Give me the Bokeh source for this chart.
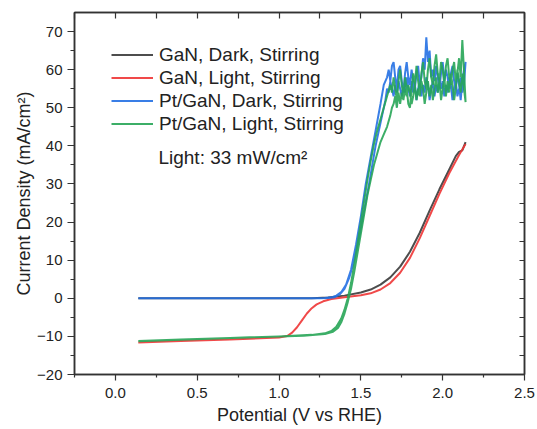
from bokeh.plotting import figure
from bokeh.models import (LinearAxis, FixedTicker, Legend, LegendItem, Label, Range1d,
                          PrintfTickFormatter)
from bokeh.embed import file_html
from bokeh.resources import INLINE

# ---------------- data ----------------
x_ticks = [0.0, 0.5, 1.0, 1.5, 2.0, 2.5]
x_minor = [-0.25, 0.25, 0.75, 1.25, 1.75, 2.25]
x_top_ticks = [-0.25, 0.0, 0.25, 0.5, 0.75, 1.0, 1.25, 1.5, 1.75, 2.0, 2.25, 2.5]
y_ticks = [-20, -10, 0, 10, 20, 30, 40, 50, 60, 70]
y_minor = [-15, -5, 5, 15, 25, 35, 45, 55, 65]
y_right_ticks = [-20, -15, -10, -5, 0, 5, 10, 15, 20, 25, 30, 35, 40, 45, 50, 55, 60, 65, 70]
y_tick_labels = {-20: "\u221220", -10: "\u221210"}

gan_dark_x = [0.14, 0.60, 1.00, 1.20, 1.30, 1.40, 1.50, 1.56, 1.62, 1.68, 1.74, 1.80,
              1.86, 1.92, 1.98, 2.04, 2.08, 2.10, 2.12, 2.14]
gan_dark_y = [0.0, 0.0, 0.0, 0.0, 0.2, 0.7, 1.5, 2.3, 3.6, 5.5, 8.3, 12.2,
              17.2, 23.0, 28.6, 33.8, 37.3, 38.4, 38.8, 41.0]

gan_light_x = [0.14, 0.40, 0.70, 1.00, 1.05, 1.08, 1.11, 1.14, 1.17, 1.20, 1.23, 1.27,
               1.32, 1.40, 1.50, 1.56, 1.62, 1.68, 1.74, 1.80, 1.86, 1.92, 1.98, 2.04,
               2.10, 2.14]
gan_light_y = [-11.6, -11.2, -10.8, -10.3, -9.9, -9.0, -7.6, -5.8, -4.0, -2.6, -1.6, -0.8,
               -0.2, 0.3, 0.8, 1.3, 2.3, 4.0, 6.7, 10.6, 15.8, 21.6, 27.4, 32.8,
               37.6, 40.5]

pt_dark_x = [0.14, 0.40, 0.70, 1.00, 1.20, 1.28, 1.32, 1.35, 1.38, 1.41, 1.44, 1.47,
             1.50, 1.53, 1.56, 1.59, 1.62, 1.64, 1.66,
             1.67, 1.68, 1.69, 1.70, 1.71, 1.72, 1.73, 1.74, 1.75, 1.76, 1.77, 1.78,
             1.79, 1.80, 1.81, 1.82, 1.83, 1.84, 1.85, 1.86, 1.87, 1.88, 1.89, 1.90,
             1.91, 1.92, 1.93, 1.94, 1.95, 1.96, 1.97, 1.98, 1.99, 2.00, 2.01, 2.02,
             2.03, 2.04, 2.05, 2.06, 2.07, 2.08, 2.09, 2.10, 2.11, 2.12, 2.13, 2.14,
             2.13, 2.12, 2.11, 2.10, 2.09, 2.08, 2.07, 2.06, 2.05, 2.04, 2.03, 2.02,
             2.01, 2.00, 1.99, 1.98, 1.97, 1.96, 1.95, 1.94, 1.93, 1.92, 1.91, 1.90,
             1.89, 1.88, 1.87, 1.86, 1.85, 1.84, 1.83, 1.82, 1.81, 1.80, 1.79, 1.78,
             1.77, 1.76, 1.75, 1.74, 1.73, 1.72, 1.71, 1.70, 1.69, 1.68, 1.67, 1.66,
             1.65, 1.63, 1.61, 1.59, 1.57, 1.55, 1.52, 1.49, 1.46, 1.43, 1.40, 1.37,
             1.34, 1.30, 1.25]
pt_dark_y = [0.0, 0.0, 0.0, 0.0, 0.0, 0.05, 0.25, 0.7, 1.6, 3.6, 7.5, 14.0,
             21.5, 30.0, 37.0, 44.0, 51.0, 56.0, 58.0,
             60, 57, 61, 62, 58, 55, 60, 61, 57, 54, 59, 62,
             58, 56, 60, 57, 55, 59, 61, 56, 58, 63, 60, 68.5,
             62, 65, 58, 60, 57, 61, 58, 55, 59, 62, 57, 60,
             58, 55, 59, 61, 57, 55, 59, 56, 52, 57, 60, 62,
             56, 54, 58, 55, 53, 57, 55, 52, 56, 58, 54, 56,
             53, 57, 55, 58, 54, 56, 53, 57, 55, 52, 56, 58,
             54, 56, 53, 57, 55, 52, 56, 54, 57, 53, 55, 58,
             54, 56, 53, 55, 57, 54, 56, 53, 55, 57, 54, 55,
             52, 48, 44, 40, 35, 30, 23, 16, 10, 5.5, 2.5, 1.0,
             0.3, 0.05, 0.0]

pt_light_x = [0.14, 0.40, 0.70, 1.00, 1.20, 1.28, 1.32, 1.35, 1.38, 1.40, 1.42, 1.44,
              1.46, 1.48, 1.50, 1.52, 1.54, 1.56, 1.58, 1.60, 1.62, 1.64, 1.66, 1.68,
              1.69, 1.70, 1.71, 1.72, 1.73, 1.74, 1.75, 1.76, 1.77, 1.78, 1.79, 1.80,
              1.81, 1.82, 1.83, 1.84, 1.85, 1.86, 1.87, 1.88, 1.89, 1.90, 1.91, 1.92,
              1.93, 1.94, 1.95, 1.96, 1.97, 1.98, 1.99, 2.00, 2.01, 2.02, 2.03, 2.04,
              2.05, 2.06, 2.07, 2.08, 2.09, 2.10, 2.11, 2.12, 2.13, 2.14,
              2.13, 2.12, 2.11, 2.10, 2.09, 2.08, 2.07, 2.06, 2.05, 2.04, 2.03, 2.02,
              2.01, 2.00, 1.99, 1.98, 1.97, 1.96, 1.95, 1.94, 1.93, 1.92, 1.91, 1.90,
              1.89, 1.88, 1.87, 1.86, 1.85, 1.84, 1.83, 1.82, 1.81, 1.80, 1.79, 1.78,
              1.77, 1.76, 1.75, 1.74, 1.73, 1.72, 1.71, 1.70, 1.69, 1.68, 1.66, 1.64,
              1.62, 1.60, 1.58, 1.56, 1.54, 1.52, 1.50, 1.48, 1.46, 1.44, 1.42, 1.40,
              1.38, 1.36, 1.33, 1.28, 1.15, 0.80, 0.40, 0.14]
pt_light_y = [-11.2, -10.8, -10.4, -10.0, -9.6, -9.2, -8.6, -7.5, -5.3, -3.0, 0.0, 4.0,
              9.0, 14.5, 20.0, 25.5, 31.0, 36.0, 40.5, 44.0, 47.0, 50.0, 53.0, 56.0,
              54, 58, 55, 52, 57, 60, 56, 53, 58, 55, 51, 50,
              55, 59, 56, 61, 57, 54, 59, 62, 57, 55, 60, 63,
              58, 56, 61, 64, 59, 57, 62, 60, 56, 61, 63, 58,
              56, 60, 62, 57, 59, 63, 58, 67.8, 60, 51.5,
              55, 59, 54, 57, 60, 55, 52, 56, 59, 54, 57, 53,
              58, 55, 52, 57, 54, 58, 55, 52, 56, 53, 57, 54,
              51, 55, 57, 53, 55, 52, 56, 53, 51, 54, 56, 53,
              55, 52, 54, 51, 54, 50, 53, 51, 50, 48, 45, 43,
              41, 38, 35, 31, 27, 22, 17, 12, 7, 2.5, -1.0, -4.0,
              -6.3, -7.8, -8.8, -9.4, -9.8, -10.3, -10.9, -11.3]

series = [
    ("GaN, Dark, Stirring", gan_dark_x, gan_dark_y, "#3a3a3a"),
    ("GaN, Light, Stirring", gan_light_x, gan_light_y, "#ee3535"),
    ("Pt/GaN, Dark, Stirring", pt_dark_x, pt_dark_y, "#2370e3"),
    ("Pt/GaN, Light, Stirring", pt_light_x, pt_light_y, "#27a556"),
]

FONT = "Liberation Sans"
AX = "#333333"
TXT = "#222222"

p = figure(width=537, height=431, output_backend="svg", toolbar_location=None,
           x_range=Range1d(-0.25, 2.5), y_range=Range1d(-20, 75),
           min_border_left=74, min_border_right=13, min_border_top=12, min_border_bottom=57,
           background_fill_color="white", border_fill_color="white")
p.xgrid.visible = False
p.ygrid.visible = False
p.outline_line_color = AX
p.outline_line_width = 1.5
p.xaxis.visible = False
p.yaxis.visible = False

def style(ax):
    ax.axis_line_color = AX
    ax.axis_line_width = 1.5
    ax.major_tick_line_color = AX
    ax.minor_tick_line_color = AX
    ax.major_tick_line_width = 1.2
    ax.minor_tick_line_width = 1.2
    ax.major_label_text_font = FONT
    ax.major_label_text_color = TXT
    ax.axis_label_text_font = FONT
    ax.axis_label_text_color = TXT
    ax.axis_label_text_font_style = "normal"

xb = LinearAxis(ticker=FixedTicker(ticks=x_ticks, minor_ticks=x_minor),
                axis_label="Potential (V vs RHE)",
                formatter=PrintfTickFormatter(format="%.1f"))
style(xb)
xb.major_tick_out = 6; xb.major_tick_in = 0
xb.minor_tick_out = 3; xb.minor_tick_in = 0
xb.major_label_text_font_size = "15px"
xb.major_label_standoff = 7
xb.axis_label_text_font_size = "18px"
xb.axis_label_standoff = 4
p.add_layout(xb, "below")

yl = LinearAxis(ticker=FixedTicker(ticks=y_ticks, minor_ticks=y_minor),
                axis_label="Current Density (mA/cm\u00b2)",
                major_label_overrides=y_tick_labels)
style(yl)
yl.major_tick_out = 7; yl.major_tick_in = 0
yl.minor_tick_out = 4; yl.minor_tick_in = 0
yl.major_label_text_font_size = "15px"
yl.major_label_standoff = 5
yl.axis_label_text_font_size = "18px"
yl.axis_label_standoff = 0
p.add_layout(yl, "left")

xt = LinearAxis(ticker=FixedTicker(ticks=x_top_ticks))
style(xt)
xt.major_tick_out = 0; xt.major_tick_in = 6
xt.minor_tick_out = 0; xt.minor_tick_in = 0
xt.major_label_text_font_size = "1px"
xt.major_label_text_color = None
xt.major_label_standoff = 0
p.add_layout(xt, "above")

yr = LinearAxis(ticker=FixedTicker(ticks=y_right_ticks))
style(yr)
yr.major_tick_out = 0; yr.major_tick_in = 5
yr.minor_tick_out = 0; yr.minor_tick_in = 0
yr.major_label_text_font_size = "1px"
yr.major_label_text_color = None
yr.major_label_standoff = 0
p.add_layout(yr, "right")

items = []
for name, xs, ys, col in series:
    r = p.line(xs, ys, line_color=col, line_width=2, line_alpha=0.9)
    items.append(LegendItem(label=name, renderers=[r]))

legend = Legend(items=items, location=(37, 239), padding=0, margin=0, spacing=0,
                glyph_width=42, glyph_height=23, label_height=23, label_standoff=6,
                label_text_font=FONT, label_text_font_size="19px", label_text_color=TXT,
                border_line_color=None, background_fill_alpha=0)
p.add_layout(legend)

p.add_layout(Label(x=0.263, y=37, text="Light: 33 mW/cm\u00b2", text_font=FONT,
                   text_font_size="19px", text_color=TXT, text_baseline="middle"))

open("out.html", "w").write(file_html(p, INLINE))
